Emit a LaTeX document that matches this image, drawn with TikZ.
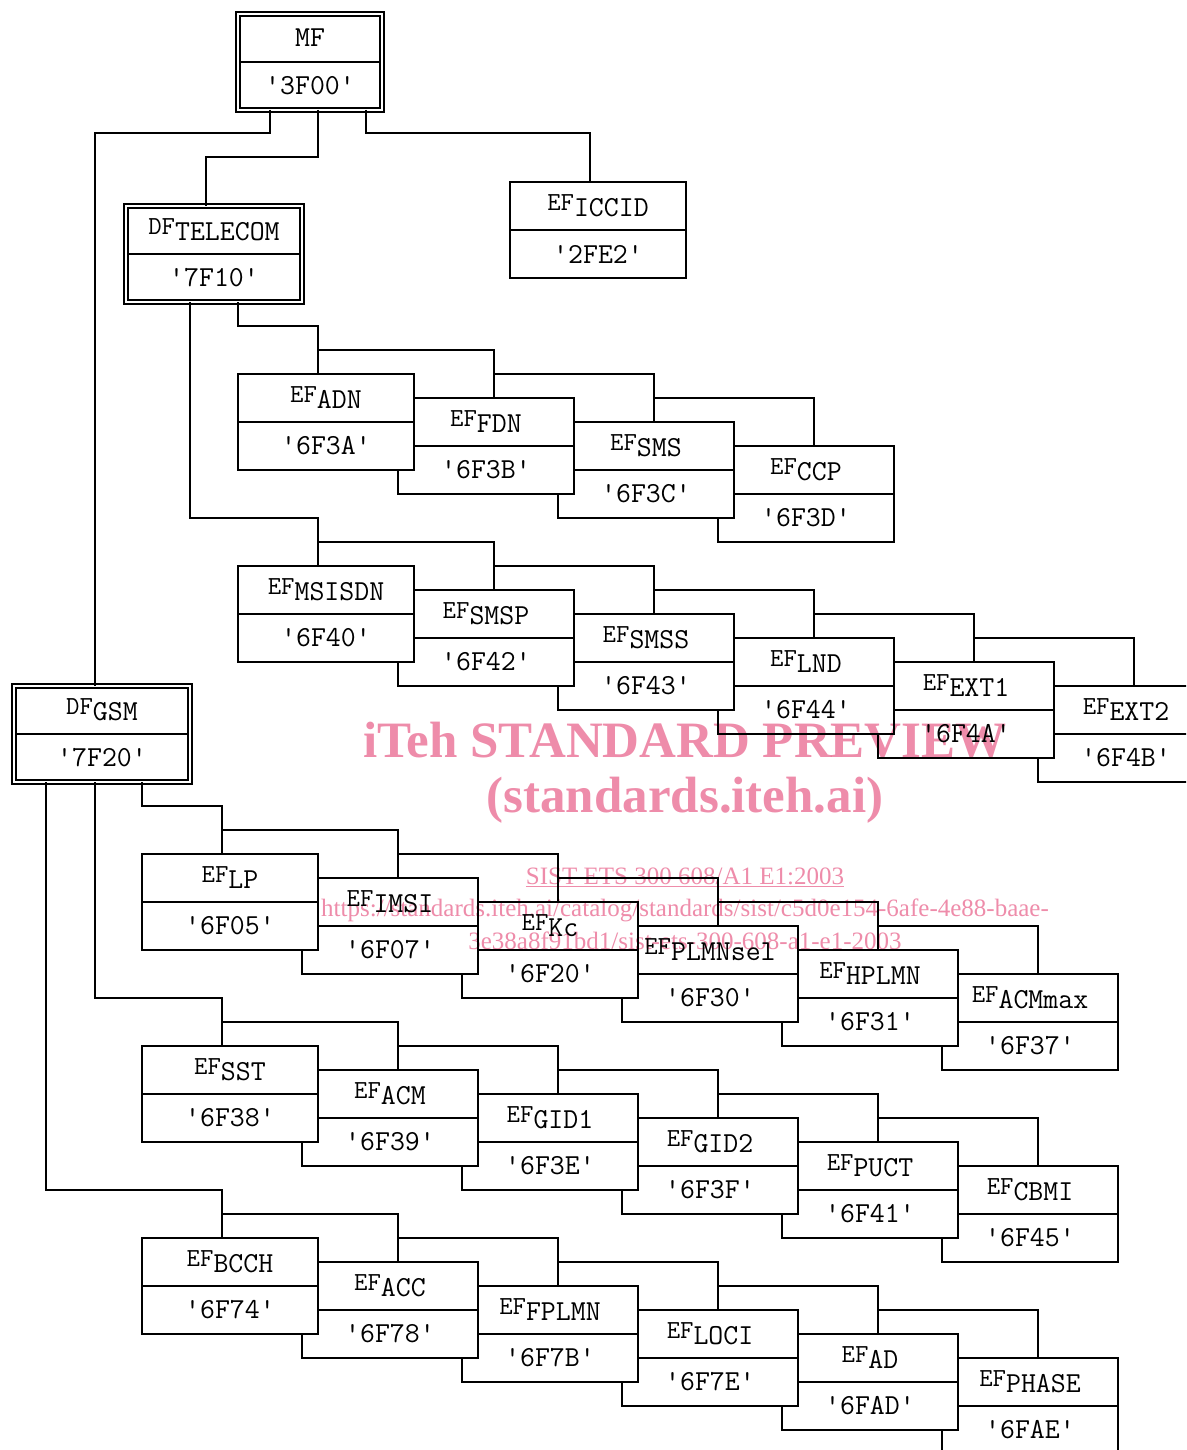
\documentclass[tikz,border=0pt]{standalone}
\usepackage{fontspec}
\newfontfamily\wmfont{Liberation Serif}
\definecolor{wmpink}{RGB}{238,140,170}

% file label: small prefix, lowered name
\newcommand{\fname}[2]{{\fontsize{26}{26}\selectfont #1}\raisebox{-6pt}{#2}}
% box with name row and id row
\newcommand{\filebox}[5][efbox]{%
  \node[#1] (#2) at (#3) {};
  \draw[#1-div] (#2.west) -- (#2.east);
  \node[idtext] (#2-l) at ([yshift=24pt]#2.center) {#4};
  \node[idtext] (#2-i) at ([yshift=-24pt]#2.center) {'#5'};
}

\begin{document}
\begin{tikzpicture}[x=1pt, y=-1pt,
	efbox/.style={draw, fill=white, line width=1.8pt, anchor=north west, outer sep=0pt,
		inner sep=0pt, minimum width=176pt, minimum height=96pt},
	efbox-div/.style={line width=1.8pt},
	dfbox/.style={efbox, double, line width=1.4pt, double distance=2.6pt},
	dfbox-div/.style={line width=1.8pt, shorten <=2pt, shorten >=2pt},
	mfbox/.style={dfbox, minimum width=144pt},
	mfbox-div/.style={dfbox-div},
	idtext/.style={font=\ttfamily\fontsize{29}{31}\selectfont, inner sep=0pt},
	link/.style={line width=1.8pt},
	wmark/.style={text=wmpink, inner sep=0pt}]
	\useasboundingbox (0,0) rectangle (1186,1450);
	\clip (0,0) rectangle (1186,1450);

	% master and dedicated files
	\filebox[mfbox]{mf}{238,14}{MF}{3F00}
	\filebox[dfbox]{telecom}{126,206}{\fname{DF}{TELECOM}}{7F10}
	\filebox[dfbox]{gsm}{14,686}{\fname{DF}{GSM}}{7F20}
	\filebox{iccid}{510,182}{\fname{EF}{ICCID}}{2FE2}

	% elementary files under DF telecom
	\foreach \k/\n/\s/\id in {3/ccp/CCP/6F3D, 2/sms/SMS/6F3C, 1/fdn/FDN/6F3B, 0/adn/ADN/6F3A}
		{\filebox{\n}{238+160*\k, 374+24*\k}{\fname{EF}{\s}}{\id}}
	\foreach \k/\n/\s/\id in {5/ext2/EXT2/6F4B, 4/ext1/EXT1/6F4A, 3/lnd/LND/6F44,
		2/smss/SMSS/6F43, 1/smsp/SMSP/6F42, 0/msisdn/MSISDN/6F40}
		{\filebox{\n}{238+160*\k, 566+24*\k}{\fname{EF}{\s}}{\id}}

	% elementary files under DF gsm
	\foreach \k/\n/\s/\id in {5/acmmax/ACMmax/6F37, 4/hplmn/HPLMN/6F31, 3/plmnsel/PLMNsel/6F30,
		2/kc/Kc/6F20, 1/imsi/IMSI/6F07, 0/lp/LP/6F05}
		{\filebox{\n}{142+160*\k, 854+24*\k}{\fname{EF}{\s}}{\id}}
	\foreach \k/\n/\s/\id in {5/cbmi/CBMI/6F45, 4/puct/PUCT/6F41, 3/gid2/GID2/6F3F,
		2/gid1/GID1/6F3E, 1/acm/ACM/6F39, 0/sst/SST/6F38}
		{\filebox{\n}{142+160*\k, 1046+24*\k}{\fname{EF}{\s}}{\id}}
	\foreach \k/\n/\s/\id in {5/phase/PHASE/6FAE, 4/ad/AD/6FAD, 3/loci/LOCI/6F7E,
		2/fplmn/FPLMN/6F7B, 1/acc/ACC/6F78, 0/bcch/BCCH/6F74}
		{\filebox{\n}{142+160*\k, 1238+24*\k}{\fname{EF}{\s}}{\id}}

	% tree lines
	\draw[link] ([xshift=-40pt]mf.south) -- ++(0,23) -| ([xshift=-7pt]gsm.north);
	\draw[link] ([xshift=8pt]mf.south) -- ++(0,47) -| ([xshift=-8pt]telecom.north);
	\draw[link] ([xshift=56pt]mf.south) -- ++(0,23) -| ([xshift=-8pt]iccid.north);
	\draw[link] ([xshift=24pt]telecom.south) -- ++(0,24) -| ([xshift=-8pt]adn.north);
	\draw[link] ([xshift=-24pt]telecom.south) -- ++(0,216) -| ([xshift=-8pt]msisdn.north);
	\draw[link] ([xshift=40pt]gsm.south) -- ++(0,24) -| ([xshift=-8pt]lp.north);
	\draw[link] ([xshift=-7pt]gsm.south) -- ++(0,216) -| ([xshift=-8pt]sst.north);
	\draw[link] ([xshift=-56pt]gsm.south) -- ++(0,408) -| ([xshift=-8pt]bcch.north);
	\foreach \a/\b/\s in {adn/fdn/-8pt, fdn/sms/8pt, sms/ccp/8pt,
		msisdn/smsp/-8pt, smsp/smss/8pt, smss/lnd/8pt, lnd/ext1/8pt, ext1/ext2/8pt,
		lp/imsi/-8pt, imsi/kc/8pt, kc/plmnsel/8pt, plmnsel/hplmn/8pt, hplmn/acmmax/8pt,
		sst/acm/-8pt, acm/gid1/8pt, gid1/gid2/8pt, gid2/puct/8pt, puct/cbmi/8pt,
		bcch/acc/-8pt, acc/fplmn/8pt, fplmn/loci/8pt, loci/ad/8pt, ad/phase/8pt}
		\draw[link] ([xshift=\s, yshift=24pt]\a.north) -| ([xshift=8pt]\b.north);

	% watermark
	\begin{scope}[blend mode=multiply]
	\node[wmark, font=\wmfont\bfseries\fontsize{51}{56}\selectfont] (wm1) at (685,740) {iTeh STANDARD PREVIEW};
	\node[wmark, font=\wmfont\bfseries\fontsize{51}{56}\selectfont] (wm2) at (685,800) {(standards.iteh.ai)};
	\node[wmark, font=\wmfont\fontsize{25}{28}\selectfont] (wm3) at (685,877) {\underline{SIST ETS 300 608/A1 E1:2003}};
	\node[wmark, font=\wmfont\fontsize{25}{28}\selectfont] (wm4) at (685,910) {https://standards.iteh.ai/catalog/standards/sist/c5d0e154-6afe-4e88-baae-};
	\node[wmark, font=\wmfont\fontsize{25}{28}\selectfont] (wm5) at (685,941) {3e38a8f91bd1/sist-ets-300-608-a1-e1-2003};
	\end{scope}
\end{tikzpicture}
\end{document}
